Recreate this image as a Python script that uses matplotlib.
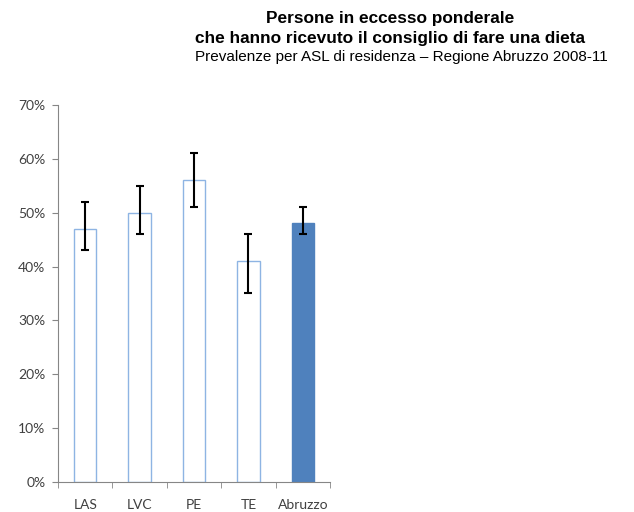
import numpy as np
import matplotlib.pyplot as plt
from matplotlib.ticker import FuncFormatter

# dati
categorie = ['LAS', 'LVC', 'PE', 'TE', 'Abruzzo']
valori = np.array([47, 50, 56, 41, 48])
ic_inf = np.array([43, 46, 51, 35, 46])
ic_sup = np.array([52, 55, 61, 46, 51])

x = np.arange(len(categorie))
err = np.vstack([valori - ic_inf, ic_sup - valori])

fig = plt.figure(figsize=(6.34, 5.12), dpi=100)
ax = fig.add_axes([0.0915, 0.0586, 0.429, 0.7364])

facce = ['white'] * 4 + ['#4F81BD']
bordi = ['#8EB4E3'] * 4 + ['#4F81BD']
ax.bar(x, valori, width=0.41, color=facce, edgecolor=bordi, linewidth=1.0, zorder=2)
ax.errorbar(x, valori, yerr=err, fmt='none', ecolor='black', elinewidth=1.5,
            capsize=3, capthick=1.5, zorder=3)

ax.set_xlim(-0.5, len(categorie) - 0.5)
ax.set_ylim(0, 70)
ax.set_yticks(np.arange(0, 71, 10))
ax.yaxis.set_major_formatter(FuncFormatter(lambda v, p: f'{v:.0f}%'))
ax.set_xticks(x)
ax.set_xticklabels(categorie)
ax.set_xticks(np.arange(-0.5, len(categorie), 1), minor=True)
ax.tick_params(axis='x', which='major', length=0, pad=12)
ax.tick_params(axis='x', which='minor', length=4, color='#868686')
ax.tick_params(axis='y', length=4, color='#868686', pad=5)
for lab in ax.get_xticklabels() + ax.get_yticklabels():
    lab.set_fontfamily('Lato')
    lab.set_fontsize(10)
    lab.set_color('#404040')

for s in ['top', 'right']:
    ax.spines[s].set_visible(False)
for s in ['left', 'bottom']:
    ax.spines[s].set_color('#868686')

fig.text(0.615, 0.963, 'Persone in eccesso ponderale', ha='center', va='center',
         fontsize=12.4, fontweight='bold', family='Liberation Sans')
fig.text(0.615, 0.925, 'che hanno ricevuto il consiglio di fare una dieta', ha='center',
         va='center', fontsize=12.4, fontweight='bold', family='Liberation Sans')
fig.text(0.633, 0.889, 'Prevalenze per ASL di residenza – Regione Abruzzo 2008-11',
         ha='center', va='center', fontsize=11, family='Liberation Sans')

fig.savefig('out.png', dpi=100, facecolor='white')
